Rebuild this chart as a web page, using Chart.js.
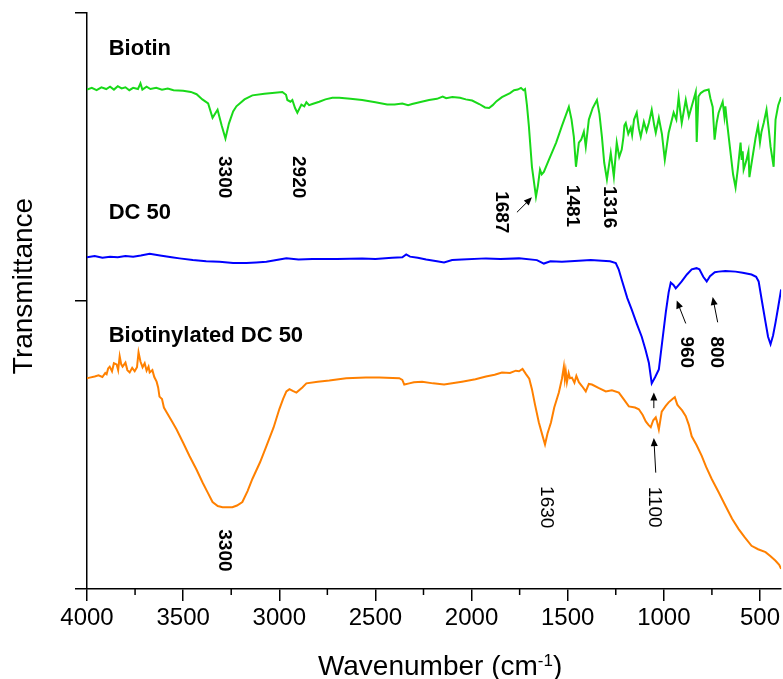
<!DOCTYPE html>
<html>
<head>
<meta charset="utf-8">
<title>FTIR Biotin / DC 50</title>
<script src="https://cdn.jsdelivr.net/npm/chart.js@4.4.1/dist/chart.umd.min.js"></script>
<style>
  html, body { margin: 0; padding: 0; background: #fff; overflow: hidden; }
  #myChart { display: block; }
</style>
</head>
<body>
<canvas id="myChart" width="783" height="679"></canvas>
<script>
const ctx = document.getElementById('myChart');
const fuente = '"Liberation Sans", Arial, sans-serif';

// Biotin (verde)
const biotinWave = [4000, 3975, 3950, 3925, 3900, 3880, 3860, 3840, 3820, 3800, 3780, 3760, 3735, 3722, 3712, 3690, 3670, 3640, 3610, 3580, 3550, 3500, 3460, 3430, 3400, 3370, 3347, 3321, 3300, 3280, 3262, 3240, 3223, 3181, 3140, 3077, 2984, 2965, 2958, 2942, 2932, 2918, 2906, 2885, 2870, 2859, 2845, 2828, 2792, 2760, 2724, 2688, 2630, 2569, 2500, 2439, 2400, 2360, 2330, 2309, 2260, 2221, 2180, 2150, 2132, 2100, 2060, 2030, 1997, 1960, 1930, 1909, 1890, 1870, 1842, 1800, 1779, 1760, 1743, 1730, 1722, 1712, 1702, 1686, 1665, 1655, 1644, 1635, 1624, 1598, 1560, 1530, 1494, 1480, 1468, 1457, 1442, 1430, 1416, 1406, 1390, 1370, 1348, 1335, 1322, 1310, 1296, 1276, 1260, 1245, 1232,
  1219, 1210, 1205, 1198, 1185, 1172, 1165, 1155, 1141, 1130, 1120, 1104, 1090, 1078, 1063, 1050, 1042, 1026, 1010, 995, 975, 949, 935, 923, 915, 907, 886, 870, 860, 845, 834, 829, 820, 808, 790, 767, 758, 746, 736, 725, 715, 694, 685, 680, 673, 653, 640, 627, 615, 601, 595, 590, 585, 570, 560, 555, 549, 523, 510, 500, 492, 480, 466, 455, 445, 429, 419, 405, 390];
const biotinT = [86.7, 87.0, 86.6, 87.1, 86.8, 87.2, 86.7, 87.3, 86.9, 87.1, 86.6, 87.0, 86.8, 87.8, 86.7, 87.2, 86.8, 87.0, 86.7, 86.9, 86.6, 86.5, 86.3, 85.9, 85.0, 84.3, 81.8, 83.2, 80.5, 78.2, 80.8, 82.9, 83.8, 85.0, 85.7, 86.0, 86.3, 85.8, 84.9, 84.6, 84.9, 83.5, 82.7, 84.1, 83.8, 84.5, 84.0, 84.2, 84.6, 85.0, 85.3, 85.3, 85.1, 84.9, 84.5, 84.1, 84.1, 84.3, 84.0, 84.2, 84.6, 84.9, 85.1, 85.5, 85.2, 85.4, 85.3, 85.0, 84.8, 84.2, 83.6, 83.5, 84.0, 84.7, 85.4, 86.1, 86.6, 86.7, 87.0, 86.6, 86.8, 84.0, 80.4, 73.3, 68.1, 70.0, 72.8, 72.0, 72.4, 74.5, 77.5, 80.4, 83.7, 81.5, 78.5, 73.3, 77.5, 78.0, 79.4, 76.8, 81.5, 83.5, 84.9, 82.5, 78.5, 74.0, 71.1, 75.7, 71.6, 77.5, 75.0,
  76.3, 78.5, 80.5, 80.9, 79.0, 80.1, 78.8, 81.5, 82.7, 80.0, 78.5, 81.1, 79.5, 80.9, 83.2, 80.5, 79.2, 81.8, 79.0, 74.5, 79.2, 82.7, 81.5, 85.4, 83.0, 80.9, 84.9, 82.0, 83.2, 85.0, 86.3, 77.6, 85.5, 86.1, 86.5, 86.7, 85.2, 83.7, 78.0, 81.0, 82.7, 84.6, 82.0, 83.8, 81.5, 75.7, 72.0, 69.7, 73.0, 77.5, 74.5, 76.0, 72.8, 74.5, 76.0, 71.5, 72.8, 78.3, 80.5, 77.5, 79.4, 81.0, 83.2, 80.0, 76.8, 73.3, 81.5, 84.0, 85.4];

// DC 50 (azul)
const dc50Wave = [4000, 3960, 3920, 3880, 3840, 3800, 3760, 3720, 3674, 3620, 3560, 3519, 3450, 3380, 3311, 3240, 3171, 3120, 3067, 3000, 2963, 2900, 2828, 2700, 2569, 2500, 2413, 2360, 2340, 2320, 2280, 2236, 2180, 2143, 2101, 2050, 1925, 1850, 1753, 1660, 1624, 1590, 1530, 1442, 1380, 1322, 1280, 1250, 1235, 1219, 1190, 1167, 1140, 1115, 1095, 1078, 1063, 1045, 1026, 1010, 990, 975, 964, 950, 938, 920, 907, 880, 855, 830, 815, 795, 777, 760, 735, 715, 680, 627, 590, 544, 520, 507, 490, 471, 458, 445, 432, 419, 405, 390];
const dc50T = [57.6, 57.8, 57.5, 57.7, 57.6, 57.8, 57.7, 57.9, 58.2, 57.9, 57.6, 57.4, 57.1, 56.9, 56.8, 56.6, 56.6, 56.7, 56.8, 57.2, 57.4, 57.2, 57.3, 57.3, 57.4, 57.3, 57.5, 57.6, 58.1, 57.7, 57.5, 57.2, 56.9, 56.7, 57.1, 57.2, 57.4, 57.3, 57.4, 57.1, 56.5, 56.9, 56.8, 57.0, 57.1, 57.0, 56.9, 56.6, 55.5, 53.7, 50.5, 48.5, 46.0, 43.8, 41.5, 39.3, 35.7, 36.8, 38.1, 42.5, 48.0, 51.5, 53.2, 52.8, 52.2, 52.9, 53.4, 54.6, 55.5, 55.7, 55.5, 54.2, 53.4, 54.3, 55.0, 55.1, 55.2, 55.1, 54.9, 54.6, 54.2, 53.4, 50.0, 46.3, 43.8, 42.5, 44.0, 46.3, 49.0, 52.0];

// Biotinylated DC 50 (naranja)
const biotDcWave = [4000, 3986, 3960, 3940, 3920, 3905, 3898, 3890, 3882, 3870, 3860, 3846, 3838, 3830, 3822, 3815, 3800, 3790, 3778, 3765, 3752, 3740, 3732, 3722, 3711, 3700, 3690, 3680, 3674, 3660, 3650, 3638, 3630, 3623, 3610, 3600, 3586, 3560, 3534, 3500, 3467, 3430, 3399, 3370, 3347, 3320, 3295, 3244, 3220, 3192, 3165, 3140, 3100, 3067, 3030, 3000, 2980, 2963, 2947, 2930, 2911, 2880, 2859, 2800, 2740, 2652, 2550, 2480, 2376, 2360, 2350, 2324, 2300, 2257, 2200, 2143, 2050, 1980, 1925, 1880, 1842, 1800, 1770, 1753, 1735, 1717, 1700, 1686, 1670, 1650, 1630, 1618, 1605, 1587, 1570, 1546, 1530, 1520, 1515, 1510, 1504, 1495, 1488, 1478, 1465, 1455, 1442, 1425, 1406, 1390, 1374, 1340, 1302, 1270, 1234, 1210, 1182, 1150, 1130, 1110, 1094, 1080, 1068, 1055, 1042, 1035, 1026, 1011, 990, 975, 955, 943, 930, 923, 905, 886, 870, 855, 830, 803, 780, 751, 715, 679, 645, 611, 580, 544, 510, 471, 445, 419, 400, 390];
const biotDcT = [36.6, 36.7, 36.9, 37.1, 36.8, 37.5, 37.3, 38.3, 38.6, 37.8, 39.2, 39.0, 38.0, 40.4, 39.0, 38.6, 39.3, 38.0, 37.6, 38.4, 37.8, 38.5, 41.1, 39.5, 38.5, 39.2, 37.9, 38.6, 37.6, 38.0, 36.8, 36.0, 35.0, 33.4, 33.0, 31.5, 30.7, 29.2, 27.7, 25.4, 23.1, 20.7, 18.5, 16.6, 15.1, 14.4, 14.2, 14.2, 14.5, 15.1, 17.0, 19.1, 22.0, 24.8, 28.0, 31.2, 33.0, 34.3, 34.7, 34.4, 34.1, 35.0, 35.7, 36.0, 36.2, 36.6, 36.7, 36.7, 36.6, 36.3, 35.5, 35.7, 35.9, 36.0, 35.7, 35.5, 36.0, 36.4, 36.9, 37.2, 37.6, 37.5, 37.9, 37.8, 38.2, 37.3, 36.5, 34.7, 32.0, 28.9, 26.5, 25.1, 27.0, 28.9, 31.5, 34.1, 36.5, 38.6, 36.5, 37.8, 35.9, 37.5, 36.6, 36.7, 35.8, 37.0, 35.9, 35.2, 34.3, 35.6, 35.5, 34.9, 34.3, 34.5, 34.1, 33.0, 31.7, 31.5, 31.2, 30.2, 29.1, 28.5, 28.1, 29.3, 29.8, 29.0, 27.7, 30.8, 31.8, 32.4, 33.0, 33.3, 32.0, 31.7, 31.0, 30.0, 28.5, 26.5, 25.0, 23.1, 21.2, 19.1, 16.8, 14.4, 12.2, 10.4, 9.0, 7.5, 6.9, 6.4, 5.7, 4.9, 4.2, 3.5];

// nombres de las series y etiquetas de los picos
const seriesNames = ['Biotin', 'DC 50', 'Biotinylated DC 50'];
const seriesColors = ['#19d919', '#0000ff', '#ff8000'];
const nameWave = 3887;
const nameT = [92.7, 64.2, 42.8];

const peakLabels = ['3300', '2920', '1687', '1481', '1316', '960', '800', '3300', '1630', '1100'];
const peakWave = [3285, 2901, 1847, 1478, 1286, 881, 725, 3285, 1613, 1052];
const peakT = [71.5, 71.5, 65.4, 66.5, 66.3, 41.1, 41.1, 6.7, 14.2, 14.2];
const peakBold = [true, true, true, true, true, true, true, true, false, false];

// flechas: [desde wave, desde T, hasta wave, hasta T]
const arrows = [
  [1764, 65.4, 1686, 68.0],
  [886, 46.1, 933, 50.1],
  [720, 46.3, 746, 50.7],
  [1052, 31.4, 1052, 34.1],
  [1042, 20.2, 1052, 26.2]
];

function puntos(wave, valores){
  return wave.map((w, i) => ({x: w, y: valores[i]}));
}

function dibujarFlecha(c, x1, y1, x2, y2){
  const ang = Math.atan2(y2 - y1, x2 - x1);
  const largo = 8;
  c.beginPath();
  c.moveTo(x1, y1);
  c.lineTo(x2 - Math.cos(ang) * largo * 0.8, y2 - Math.sin(ang) * largo * 0.8);
  c.stroke();
  c.beginPath();
  c.moveTo(x2, y2);
  c.lineTo(x2 - largo * Math.cos(ang) + 3.5 * Math.sin(ang), y2 - largo * Math.sin(ang) - 3.5 * Math.cos(ang));
  c.lineTo(x2 - largo * Math.cos(ang) - 3.5 * Math.sin(ang), y2 - largo * Math.sin(ang) + 3.5 * Math.cos(ang));
  c.closePath();
  c.fill();
}

const anotaciones = {
  id: 'anotaciones',
  afterDraw(chart) {
    const c = chart.ctx;
    const {x, y} = chart.scales;
    const area = chart.chartArea;
    c.save();
    c.fillStyle = '#000';
    c.strokeStyle = '#000';

    // ticks menores del eje x
    c.lineWidth = 1.5;
    x.ticks.forEach(t => {
      if (t.value % 500 !== 0) {
        const px = x.getPixelForValue(t.value);
        c.beginPath();
        c.moveTo(px, area.bottom);
        c.lineTo(px, area.bottom + 6);
        c.stroke();
      }
    });

    // nombres de las series
    c.font = 'bold 22px ' + fuente;
    c.textAlign = 'left';
    c.textBaseline = 'alphabetic';
    seriesNames.forEach((n, i) => {
      c.fillText(n, x.getPixelForValue(nameWave), y.getPixelForValue(nameT[i]));
    });

    // etiquetas de picos, giradas
    c.textAlign = 'center';
    c.textBaseline = 'middle';
    peakLabels.forEach((txt, i) => {
      c.save();
      c.translate(x.getPixelForValue(peakWave[i]), y.getPixelForValue(peakT[i]));
      c.rotate(Math.PI / 2);
      c.font = (peakBold[i] ? 'bold ' : '') + '19px ' + fuente;
      c.fillText(txt, 0, 0);
      c.restore();
    });

    // flechas
    c.lineWidth = 1;
    arrows.forEach(a => {
      dibujarFlecha(c, x.getPixelForValue(a[0]), y.getPixelForValue(a[1]),
                       x.getPixelForValue(a[2]), y.getPixelForValue(a[3]));
    });

    // titulo eje y
    c.save();
    c.translate(24, (area.top + area.bottom) / 2 - 15);
    c.rotate(-Math.PI / 2);
    c.font = '28px ' + fuente;
    c.textAlign = 'center';
    c.textBaseline = 'middle';
    c.fillText('Transmittance', 0, 0);
    c.restore();

    // titulo eje x con superindice
    const base = chart.height - 4;
    const parte1 = 'Wavenumber (cm';
    const sup = '-1';
    const parte2 = ')';
    c.textAlign = 'left';
    c.textBaseline = 'alphabetic';
    c.font = '28px ' + fuente;
    const w1 = c.measureText(parte1).width;
    const w3 = c.measureText(parte2).width;
    c.font = '17px ' + fuente;
    const w2 = c.measureText(sup).width;
    let inicio = (area.left + area.right) / 2 + 6 - (w1 + w2 + w3) / 2;
    c.font = '28px ' + fuente;
    c.fillText(parte1, inicio, base);
    c.font = '17px ' + fuente;
    c.fillText(sup, inicio + w1, base - 9);
    c.font = '28px ' + fuente;
    c.fillText(parte2, inicio + w1 + w2, base);

    c.restore();
  }
};

const configurar = {
  type: 'line',
  data: {
    datasets: [
      {label: seriesNames[0], data: puntos(biotinWave, biotinT), borderColor: seriesColors[0]},
      {label: seriesNames[1], data: puntos(dc50Wave, dc50T), borderColor: seriesColors[1]},
      {label: seriesNames[2], data: puntos(biotDcWave, biotDcT), borderColor: seriesColors[2]}
    ]
  },
  options: {
    responsive: false,
    animation: false,
    devicePixelRatio: 1,
    layout: { padding: { top: 13, left: 0, right: 0, bottom: 0 } },
    elements: {
      line: { borderWidth: 2, tension: 0 },
      point: { radius: 0 }
    },
    plugins: {
      legend: { display: false },
      tooltip: { enabled: false }
    },
    scales: {
      x: {
        type: 'linear',
        position: 'bottom',
        reverse: true,
        min: 390,
        max: 4000,
        afterBuildTicks: (s) => { s.ticks = s.ticks.filter(t => t.value % 250 === 0); },
        afterFit: (s) => { s.height = 90; },
        grid: {
          drawOnChartArea: false,
          drawTicks: true,
          tickLength: 12,
          lineWidth: 1.5,
          tickColor: (c) => (c.tick && c.tick.value % 500 === 0) ? '#000' : 'rgba(0,0,0,0)'
        },
        border: { display: true, color: '#000', width: 1.5 },
        ticks: {
          stepSize: 250,
          includeBounds: false,
          autoSkip: false,
          maxRotation: 0,
          padding: 3,
          color: '#000',
          font: { size: 24, family: fuente },
          callback: (v) => v % 500 === 0 ? String(v) : ''
        }
      },
      y: {
        type: 'linear',
        position: 'left',
        min: 0,
        max: 100,
        afterFit: (s) => { s.width = 87; },
        grid: {
          drawOnChartArea: false,
          drawTicks: true,
          tickLength: 12,
          lineWidth: 1.5,
          tickColor: '#000'
        },
        border: { display: true, color: '#000', width: 1.5 },
        ticks: {
          stepSize: 50,
          display: false
        }
      }
    }
  },
  plugins: [anotaciones]
};

const myChart = new Chart(ctx, configurar);
</script>
</body>
</html>
